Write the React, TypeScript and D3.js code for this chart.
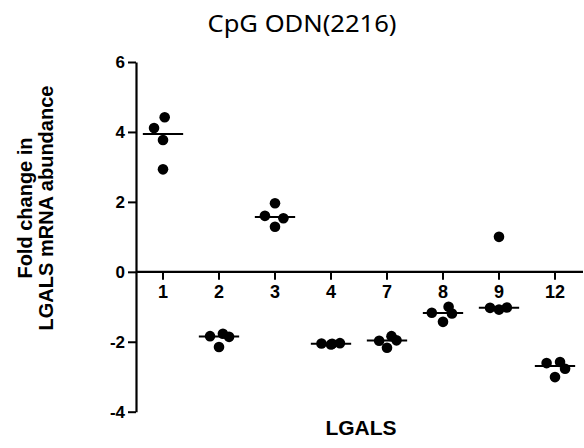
import { useEffect, useRef } from 'react';
import * as d3 from 'd3';

const categories = ['1', '2', '3', '4', '7', '8', '9', '12'];

// fold change values per LGALS gene
const lgals1 = [4.42, 4.11, 3.77, 2.93];
const lgals2 = [-1.84, -1.77, -1.86, -2.15];
const lgals3 = [1.96, 1.6, 1.53, 1.29];
const lgals4 = [-2.05, -2.08, -2.04, -2.06];
const lgals7 = [-1.97, -1.84, -2.17, -1.96];
const lgals8 = [-1.17, -1.0, -1.19, -1.43];
const lgals9 = [1.0, -1.03, -1.08, -1.02];
const lgals12 = [-2.61, -2.58, -2.77, -3.01];

// horizontal scatter of the dots, as a fraction of the band
const jitter1 = [0.03, -0.16, 0, 0];
const jitter2 = [-0.16, 0.07, 0.18, 0];
const jitter3 = [0, -0.18, 0.15, 0];
const jitter4 = [-0.17, 0, 0.16, 0.02];
const jitter7 = [-0.14, 0.08, 0, 0.17];
const jitter8 = [-0.2, 0.1, 0.16, 0];
const jitter9 = [0, -0.16, 0, 0.14];
const jitter12 = [-0.15, 0.09, 0.18, 0];

const groups = [lgals1, lgals2, lgals3, lgals4, lgals7, lgals8, lgals9, lgals12];
const jitters = [jitter1, jitter2, jitter3, jitter4, jitter7, jitter8, jitter9, jitter12];

const yTicks = [-4, -2, 0, 2, 4, 6];

const App = () => {
  const ref = useRef<SVGSVGElement>(null);

  useEffect(() => {
    const svg = d3.select(ref.current);
    svg.selectAll('*').remove();

    const x = d3.scaleBand().domain(categories).range([135, 583]).padding(0);
    const y = d3.scaleLinear().domain([-4, 6]).range([411.7, 62]);
    const bw = x.bandwidth();
    const axisX = 136;

    // y axis
    const yAxis = svg.append('g')
      .attr('transform', `translate(${axisX},0)`)
      .call(d3.axisLeft(y).tickValues(yTicks).tickFormat(d => `${d}`).tickSize(8).tickPadding(3).tickSizeOuter(0));
    yAxis.select('.domain').attr('stroke-width', 2.2);
    yAxis.selectAll('.tick line').attr('stroke-width', 2);
    yAxis.selectAll('.tick text')
      .attr('font-family', 'Liberation Sans, Arial, sans-serif')
      .attr('font-weight', 'bold')
      .attr('font-size', 17)
      .attr('fill', '#000');

    // x axis on the zero line
    const xAxis = svg.append('g')
      .attr('transform', `translate(0,${y(0)})`)
      .call(d3.axisBottom(x).tickSize(8).tickPadding(5).tickSizeOuter(0));
    xAxis.select('.domain').attr('stroke-width', 2.2).attr('d', `M${axisX},0H583`);
    xAxis.selectAll('.tick line').attr('stroke-width', 2);
    xAxis.selectAll('.tick text')
      .attr('font-family', 'Liberation Sans, Arial, sans-serif')
      .attr('font-weight', 'bold')
      .attr('font-size', 18)
      .attr('fill', '#000');

    // dots + median lines
    categories.forEach((c, i) => {
      const vals = groups[i];
      const cx = (x(c) ?? 0) + bw / 2;
      const med = d3.median(vals) ?? 0;
      const g = svg.append('g');
      g.selectAll('circle')
        .data(vals)
        .enter()
        .append('circle')
        .attr('cx', (d, j) => cx + jitters[i][j] * bw)
        .attr('cy', d => y(d))
        .attr('r', 5.3)
        .attr('fill', '#000');
      g.append('line')
        .attr('x1', cx - bw * 0.36)
        .attr('x2', cx + bw * 0.36)
        .attr('y1', y(med))
        .attr('y2', y(med))
        .attr('stroke', '#000')
        .attr('stroke-width', 2);
    });

    // title
    svg.append('text')
      .attr('x', 302)
      .attr('y', 32)
      .attr('text-anchor', 'middle')
      .attr('font-family', 'Noto Sans, Open Sans, sans-serif')
      .attr('font-size', 23)
      .attr('textLength', 189)
      .attr('lengthAdjust', 'spacingAndGlyphs')
      .text('CpG ODN(2216)');

    // x axis title
    svg.append('text')
      .attr('x', 361)
      .attr('y', 435)
      .attr('text-anchor', 'middle')
      .attr('font-family', 'Liberation Sans, Arial, sans-serif')
      .attr('font-weight', 'bold')
      .attr('font-size', 21)
      .text('LGALS');

    // y axis title (two lines)
    const yTitle = svg.append('text')
      .attr('transform', 'translate(0,208) rotate(-90)')
      .attr('text-anchor', 'middle')
      .attr('font-family', 'Liberation Sans, Arial, sans-serif')
      .attr('font-weight', 'bold')
      .attr('font-size', 20);
    yTitle.append('tspan').attr('x', 0).attr('y', 32).text('Fold change in');
    yTitle.append('tspan').attr('x', 0).attr('y', 53).text('LGALS mRNA abundance');
  }, []);

  return (
    <svg
      ref={ref}
      width={584}
      height={448}
      style={{ position: 'absolute', left: 0, top: 0, background: '#fff' }}
    />
  );
};

export default App;
